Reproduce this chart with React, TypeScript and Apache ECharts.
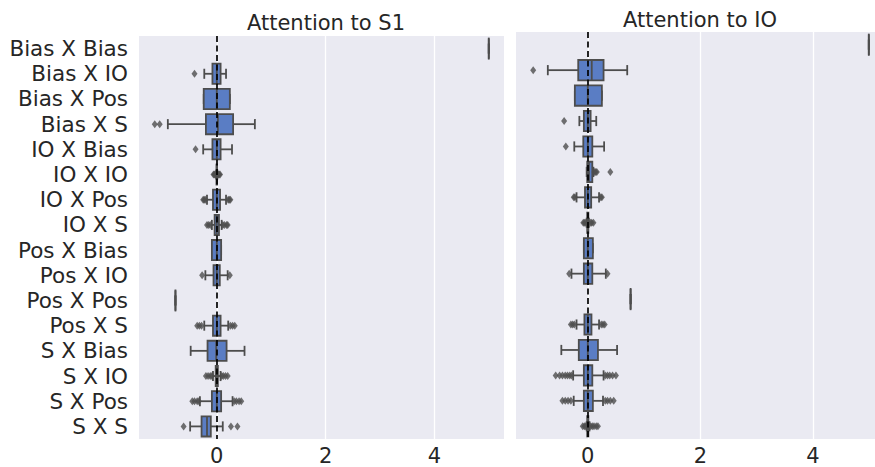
import React, { useEffect, useRef } from "react";
import * as echarts from "echarts";

const categories = [
  "Bias X Bias", "Bias X IO", "Bias X Pos", "Bias X S",
  "IO X Bias", "IO X IO", "IO X Pos", "IO X S",
  "Pos X Bias", "Pos X IO", "Pos X Pos", "Pos X S",
  "S X Bias", "S X IO", "S X Pos", "S X S",
];

const xTicks = [0, 2, 4];

// [min, q1, median, q3, max] per category — Attention to S1
const s1Boxes = [
  [5.0, 5.0, 5.0, 5.0, 5.0],
  [-0.23, -0.08, 0.0, 0.07, 0.17],
  [-0.24, -0.24, 0.0, 0.24, 0.24],
  [-0.9, -0.2, 0.02, 0.3, 0.7],
  [-0.25, -0.08, 0.0, 0.07, 0.28],
  [-0.01, -0.005, 0.0, 0.005, 0.01],
  [-0.18, -0.07, 0.0, 0.06, 0.17],
  [-0.09, -0.04, 0.0, 0.04, 0.09],
  [-0.09, -0.09, 0.0, 0.08, 0.08],
  [-0.21, -0.06, 0.0, 0.055, 0.2],
  [-0.76, -0.76, -0.76, -0.76, -0.76],
  [-0.23, -0.07, 0.0, 0.07, 0.21],
  [-0.48, -0.17, -0.01, 0.18, 0.51],
  [-0.07, -0.02, 0.0, 0.02, 0.07],
  [-0.31, -0.09, 0.0, 0.08, 0.29],
  [-0.49, -0.28, -0.18, -0.11, 0.11],
];

const s1Outliers = [
  [],
  [-0.41],
  [],
  [-1.14, -1.05],
  [-0.39],
  [-0.06, -0.045, -0.03, -0.02, 0.02, 0.03, 0.045, 0.06],
  [-0.25, -0.23, -0.21, 0.21, 0.23, 0.25],
  [-0.18, -0.15, -0.12, 0.11, 0.14, 0.18, 0.2],
  [],
  [-0.27, 0.24],
  [],
  [-0.36, -0.32, -0.28, 0.25, 0.29, 0.33],
  [],
  [-0.2, -0.16, -0.12, -0.09, 0.09, 0.12, 0.16, 0.2],
  [-0.45, -0.41, -0.36, -0.33, 0.32, 0.36, 0.41, 0.45],
  [-0.61, 0.26, 0.38],
];

// Attention to IO
const ioBoxes = [
  [4.99, 4.99, 4.99, 4.99, 4.99],
  [-0.71, -0.17, 0.07, 0.28, 0.7],
  [-0.23, -0.23, 0.0, 0.25, 0.25],
  [-0.15, -0.07, 0.0, 0.05, 0.15],
  [-0.24, -0.08, 0.0, 0.08, 0.29],
  [-0.02, -0.01, 0.02, 0.08, 0.1],
  [-0.2, -0.05, 0.0, 0.06, 0.2],
  [-0.02, -0.01, 0.0, 0.01, 0.02],
  [-0.07, -0.07, 0.0, 0.09, 0.09],
  [-0.29, -0.07, 0.0, 0.08, 0.32],
  [0.76, 0.76, 0.76, 0.76, 0.76],
  [-0.2, -0.06, 0.0, 0.065, 0.2],
  [-0.47, -0.16, 0.0, 0.18, 0.52],
  [-0.26, -0.07, 0.0, 0.08, 0.28],
  [-0.25, -0.07, 0.0, 0.09, 0.27],
  [-0.02, -0.01, 0.0, 0.01, 0.03],
];

const ioOutliers = [
  [],
  [-0.97],
  [],
  [-0.42],
  [-0.39],
  [0.12, 0.14, 0.16, 0.4],
  [-0.25, -0.23, 0.23, 0.25],
  [-0.08, -0.06, -0.04, 0.05, 0.07, 0.1],
  [],
  [-0.33, 0.35],
  [],
  [-0.3, -0.27, -0.24, 0.24, 0.27, 0.3],
  [],
  [-0.57, -0.5, -0.45, -0.4, -0.36, -0.32, -0.29, 0.31, 0.35, 0.39, 0.44, 0.5],
  [-0.45, -0.4, -0.35, -0.3, 0.31, 0.35, 0.4, 0.46],
  [-0.09, -0.06, -0.04, 0.05, 0.08, 0.11, 0.15, 0.18],
];

const BOX = "#5a7dc4";
const EDGE = "#4d4d4d";
const TEXT = "#262626";
const FONT = "DejaVu Sans";

function renderBox(params: any, api: any) {
  const cat = api.value(0);
  const mn = api.coord([api.value(1), cat]);
  const q1 = api.coord([api.value(2), cat]);
  const md = api.coord([api.value(3), cat]);
  const q3 = api.coord([api.value(4), cat]);
  const mx = api.coord([api.value(5), cat]);
  const band = api.size([0, 1])[1];
  const h = band * 0.8;
  const cy = mn[1];
  const ls = { stroke: EDGE, lineWidth: 1.8, fill: "none" };
  return {
    type: "group",
    children: [
      { type: "line", shape: { x1: mn[0], y1: cy, x2: q1[0], y2: cy }, style: ls },
      { type: "line", shape: { x1: q3[0], y1: cy, x2: mx[0], y2: cy }, style: ls },
      { type: "line", shape: { x1: mn[0], y1: cy - h / 4, x2: mn[0], y2: cy + h / 4 }, style: ls },
      { type: "line", shape: { x1: mx[0], y1: cy - h / 4, x2: mx[0], y2: cy + h / 4 }, style: ls },
      {
        type: "rect",
        shape: { x: q1[0], y: cy - h / 2, width: Math.max(q3[0] - q1[0], 0.01), height: h },
        style: { fill: BOX, stroke: EDGE, lineWidth: 1.8 },
      },
      { type: "line", shape: { x1: md[0], y1: cy - h / 2, x2: md[0], y2: cy + h / 2 }, style: ls },
    ],
  };
}

function boxData(boxes: number[][]) {
  return boxes.map((b, i) => [i, ...b]);
}

function outlierData(outs: number[][]) {
  const res: number[][] = [];
  outs.forEach((list, i) => list.forEach((v) => res.push([v, i])));
  return res;
}

export default function App() {
  const ref = useRef<HTMLDivElement>(null);
  useEffect(() => {
    if (!ref.current) return;
    const chart = echarts.init(ref.current, undefined, { renderer: "svg" });
    const xAxisBase = (gridIndex: number, min: number, max: number) => ({
      type: "value",
      gridIndex,
      min,
      max,
      axisLine: { show: false },
      axisTick: { show: false, customValues: xTicks },
      axisLabel: {
        customValues: xTicks,
        color: TEXT,
        fontSize: 21,
        fontFamily: FONT,
        margin: 6,
      },
      splitLine: { show: true, lineStyle: { color: "#ffffff", width: 1.3 } },
    });
    const yAxisBase = (gridIndex: number, showLabel: boolean) => ({
      type: "category",
      gridIndex,
      data: categories,
      inverse: true,
      axisLine: { show: false },
      axisTick: { show: false },
      splitLine: { show: false },
      axisLabel: {
        show: showLabel,
        interval: 0,
        color: TEXT,
        fontSize: 21.5,
        fontFamily: FONT,
        margin: 11,
      },
    });
    const zeroLine = {
      silent: true,
      symbol: "none",
      label: { show: false },
      lineStyle: { color: "#000000", type: [6, 3.5], width: 1.7 },
      data: [{ xAxis: 0 }],
    };
    chart.setOption({
      animation: false,
      backgroundColor: "#ffffff",
      title: [
        {
          text: "Attention to S1",
          left: 321,
          top: 7,
          textAlign: "center",
          textStyle: { fontFamily: FONT, fontSize: 21, fontWeight: "normal", color: TEXT },
        },
        {
          text: "Attention to IO",
          left: 695,
          top: 4,
          textAlign: "center",
          textStyle: { fontFamily: FONT, fontSize: 21, fontWeight: "normal", color: TEXT },
        },
      ],
      grid: [
        { left: 139, top: 36, width: 365, height: 403, show: true, backgroundColor: "#eaeaf2", borderWidth: 0 },
        { left: 516, top: 32, width: 359, height: 407, show: true, backgroundColor: "#eaeaf2", borderWidth: 0 },
      ],
      xAxis: [xAxisBase(0, -1.43, 5.28), xAxisBase(1, -1.275, 5.1)],
      yAxis: [yAxisBase(0, true), yAxisBase(1, false)],
      series: [
        {
          type: "custom",
          xAxisIndex: 0,
          yAxisIndex: 0,
          renderItem: renderBox,
          encode: { x: [1, 2, 3, 4, 5], y: 0 },
          data: boxData(s1Boxes),
          markLine: zeroLine,
          z: 2,
        },
        {
          type: "scatter",
          xAxisIndex: 0,
          yAxisIndex: 0,
          symbol: "diamond",
          symbolSize: [6, 8],
          itemStyle: { color: EDGE },
          data: outlierData(s1Outliers),
          z: 3,
        },
        {
          type: "custom",
          xAxisIndex: 1,
          yAxisIndex: 1,
          renderItem: renderBox,
          encode: { x: [1, 2, 3, 4, 5], y: 0 },
          data: boxData(ioBoxes),
          markLine: zeroLine,
          z: 2,
        },
        {
          type: "scatter",
          xAxisIndex: 1,
          yAxisIndex: 1,
          symbol: "diamond",
          symbolSize: [6, 8],
          itemStyle: { color: EDGE },
          data: outlierData(ioOutliers),
          z: 3,
        },
      ],
    });
    return () => chart.dispose();
  }, []);
  return <div ref={ref} style={{ width: 875, height: 467, position: "fixed", left: 0, top: 0 }} />;
}
